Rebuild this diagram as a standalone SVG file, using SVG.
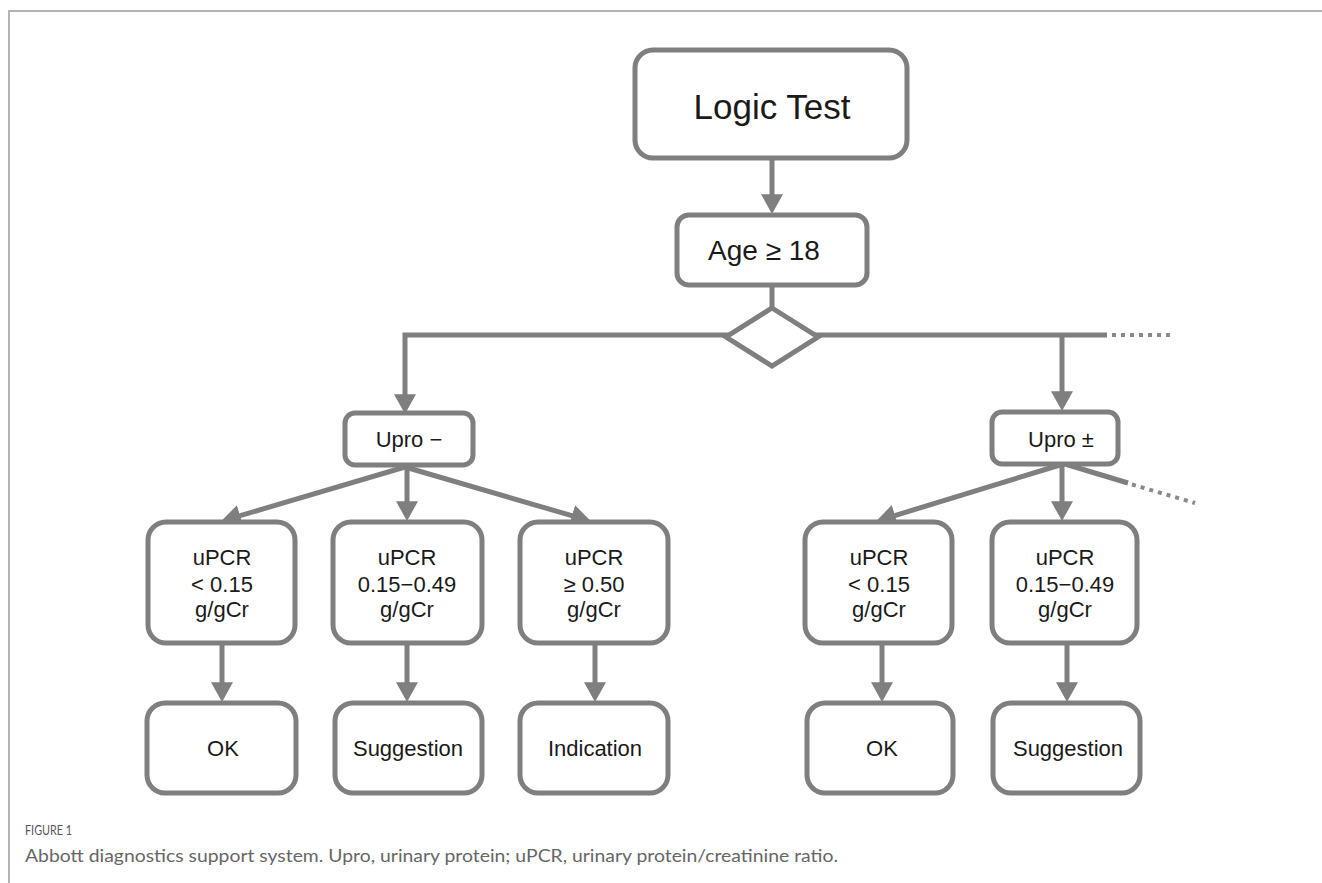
<svg xmlns="http://www.w3.org/2000/svg" width="1322" height="883" viewBox="0 0 1322 883">
<style>
.box{fill:#fff;stroke:#7f7f7f;stroke-width:5}
.ln{fill:none;stroke:#7f7f7f;stroke-width:5}
.dot{fill:none;stroke:#8a8a8a;stroke-width:4;stroke-dasharray:4 5}
.t{font-family:"Liberation Sans",Arial,sans-serif;fill:#1a1a1a;text-anchor:middle}
.m{font-size:22px}
.frame{stroke:#b3b3b3;stroke-width:2;fill:none}
</style>
<defs>
<marker id="ah" markerUnits="userSpaceOnUse" markerWidth="20" markerHeight="22" viewBox="0 0 18 20" refX="8" refY="10" orient="auto">
<path d="M0,0 L18,10 L0,20 z" fill="#7f7f7f"/>
</marker>
</defs>
<path class="frame" d="M9,883 L9,11 L1322,11"/>
<g id="connectors">
<line class="ln" x1="772" y1="158" x2="772" y2="203" marker-end="url(#ah)"/>
<line class="ln" x1="772" y1="285" x2="772" y2="310"/>
<path class="ln" d="M1107,335 L405,335 L405,403" marker-end="url(#ah)"/>
<line class="ln" x1="1062" y1="335" x2="1062" y2="400" marker-end="url(#ah)"/>
<line class="dot" x1="1112" y1="335" x2="1172" y2="335"/>
<line class="ln" x1="405" y1="467" x2="231.6" y2="518.2" marker-end="url(#ah)"/>
<line class="ln" x1="407" y1="465" x2="407" y2="510" marker-end="url(#ah)"/>
<line class="ln" x1="405" y1="467" x2="580.4" y2="518.2" marker-end="url(#ah)"/>
<line class="ln" x1="1060" y1="465" x2="886.6" y2="518.1" marker-end="url(#ah)"/>
<line class="ln" x1="1062" y1="464" x2="1062" y2="510" marker-end="url(#ah)"/>
<line class="ln" x1="1065" y1="464" x2="1128" y2="483"/>
<line class="dot" x1="1132" y1="484.5" x2="1195" y2="503"/>
<line class="ln" x1="222" y1="643" x2="222" y2="691" marker-end="url(#ah)"/>
<line class="ln" x1="407" y1="643" x2="407" y2="691" marker-end="url(#ah)"/>
<line class="ln" x1="595" y1="643" x2="595" y2="691" marker-end="url(#ah)"/>
<line class="ln" x1="882" y1="643" x2="882" y2="691" marker-end="url(#ah)"/>
<line class="ln" x1="1067" y1="643" x2="1067" y2="691" marker-end="url(#ah)"/>
</g>
<g id="logic"><rect class="box" x="635" y="50" width="272" height="108" rx="18"/><text class="t" x="772" y="119" font-size="35">Logic Test</text></g>
<g id="age"><rect class="box" x="677" y="215" width="190" height="70" rx="12"/><text class="t" x="764" y="260" font-size="28">Age ≥ 18</text></g>
<g id="decision"><polygon class="box" points="772,308 818,337 772,366 726,337"/></g>
<g id="upro-neg"><rect class="box" x="345" y="413" width="128" height="52" rx="10"/><text class="t m" x="409" y="447">Upro −</text></g>
<g id="upro-pm"><rect class="box" x="992" y="412" width="126" height="52" rx="10"/><text class="t m" x="1061" y="447">Upro ±</text></g>
<g id="upcr1"><rect class="box" x="148" y="522" width="147" height="121" rx="18"/><text class="t m" x="222"><tspan x="222" y="565">uPCR</tspan><tspan x="222" y="592">&lt; 0.15</tspan><tspan x="222" y="617">g/gCr</tspan></text></g>
<g id="upcr2"><rect class="box" x="333" y="522" width="149" height="121" rx="18"/><text class="t m" x="407"><tspan x="407" y="565">uPCR</tspan><tspan x="407" y="592">0.15−0.49</tspan><tspan x="407" y="617">g/gCr</tspan></text></g>
<g id="upcr3"><rect class="box" x="520" y="522" width="148" height="121" rx="18"/><text class="t m" x="594"><tspan x="594" y="565">uPCR</tspan><tspan x="594" y="592">≥ 0.50</tspan><tspan x="594" y="617">g/gCr</tspan></text></g>
<g id="upcr4"><rect class="box" x="805" y="522" width="147" height="121" rx="18"/><text class="t m" x="879"><tspan x="879" y="565">uPCR</tspan><tspan x="879" y="592">&lt; 0.15</tspan><tspan x="879" y="617">g/gCr</tspan></text></g>
<g id="upcr5"><rect class="box" x="992" y="522" width="145" height="121" rx="18"/><text class="t m" x="1065"><tspan x="1065" y="565">uPCR</tspan><tspan x="1065" y="592">0.15−0.49</tspan><tspan x="1065" y="617">g/gCr</tspan></text></g>
<g id="res1"><rect class="box" x="147" y="703" width="149" height="90" rx="18"/><text class="t m" x="223" y="756">OK</text></g>
<g id="res2"><rect class="box" x="335" y="703" width="147" height="90" rx="18"/><text class="t m" x="408" y="756">Suggestion</text></g>
<g id="res3"><rect class="box" x="520" y="703" width="148" height="90" rx="18"/><text class="t m" x="595" y="756">Indication</text></g>
<g id="res4"><rect class="box" x="807" y="703" width="146" height="90" rx="18"/><text class="t m" x="882" y="756">OK</text></g>
<g id="res5"><rect class="box" x="993" y="703" width="147" height="90" rx="18"/><text class="t m" x="1068" y="756">Suggestion</text></g>
<g id="caption">
<text x="25" y="835" font-family="Lato,'Open Sans',sans-serif" font-size="14" fill="#555" textLength="47" lengthAdjust="spacingAndGlyphs">FIGURE 1</text>
<text x="25" y="862" font-family="Lato,'Open Sans',sans-serif" font-size="18" fill="#666" textLength="813" lengthAdjust="spacingAndGlyphs">Abbott diagnostics support system. Upro, urinary protein; uPCR, urinary protein/creatinine ratio.</text>
</g>
</svg>
